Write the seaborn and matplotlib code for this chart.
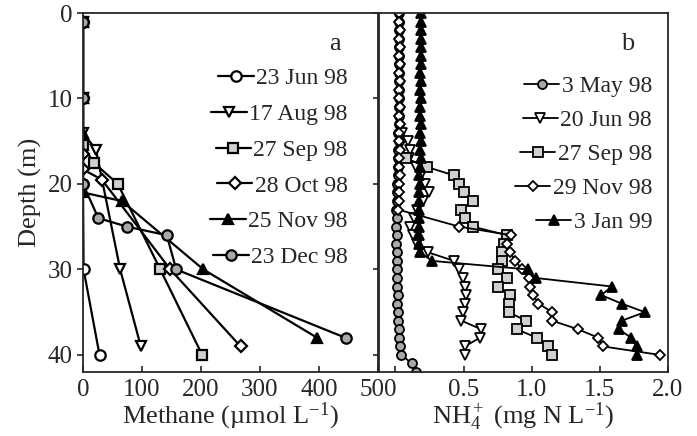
import numpy as np
import pandas as pd
import matplotlib
matplotlib.use("Agg")
import matplotlib.pyplot as plt
import seaborn as sns

# ---------------- Panel a: methane (umol/L) vs depth (m) ----------------
jun23_depth = [1, 10, 20, 30, 40]
jun23_ch4 = [0, 0, 0, 1, 28]
aug17_depth = [1, 10, 14, 16, 30, 39]
aug17_ch4 = [0, 0, 0, 22, 63, 98]
sep27_depth = [1, 10, 15.5, 17.5, 20, 30, 40]
sep27_ch4 = [0, 0, 0, 18, 59, 131, 202]
oct28_depth = [1, 10, 16.5, 18.3, 19.5, 30, 39]
oct28_ch4 = [0, 0, 0, 0, 32, 148, 267]
nov25_depth = [1, 10, 14, 21, 22, 30, 38]
nov25_ch4 = [0, 0, 0, 0, 66, 204, 397]
dec23_depth = [1, 10, 20, 24, 25, 26, 30, 38]
dec23_ch4 = [0, 0, 0, 26, 75, 142, 158, 445]

# ---------------- Panel b: NH4+ (mg N/L) vs depth (m) ----------------
may3_depth = list(range(0, 43))
may3_nh4 = [0.03, 0.025, 0.03, 0.025, 0.03, 0.025, 0.03, 0.025, 0.03, 0.025,
            0.03, 0.025, 0.03, 0.025, 0.02, 0.025, 0.02, 0.02, 0.02, 0.02,
            0.015, 0.01, 0.01, 0.005, 0.01, 0.005, 0.01, 0.005, 0.01, 0.01,
            0.015, 0.01, 0.015, 0.02, 0.015, 0.02, 0.02, 0.025, 0.03, 0.035,
            0.045, 0.12, 0.15]
jun20_depth = list(range(14, 41))
jun20_nh4 = [0.05, 0.093, 0.105, 0.10, 0.15, 0.19, 0.215, 0.25, 0.20, 0.16,
             0.14, 0.105, 0.13, 0.16, 0.24, 0.43, 0.47, 0.495, 0.51, 0.52,
             0.51, 0.495, 0.485, 0.63, 0.62, 0.51, 0.51]
sep27b_depth = list(range(17, 41))
sep27b_nh4 = [0.08, 0.23, 0.43, 0.47, 0.50, 0.57, 0.485, 0.51, 0.57, 0.82,
              0.80, 0.78, 0.78, 0.75, 0.82, 0.75, 0.84, 0.83, 0.83, 0.96,
              0.89, 1.04, 1.12, 1.15]
nov29_depth = list(range(0, 24)) + list(range(25, 41))
nov29_nh4 = [0.03, 0.03, 0.035, 0.03, 0.035, 0.03, 0.035, 0.03, 0.035, 0.03,
             0.03, 0.035, 0.03, 0.035, 0.03, 0.03, 0.035, 0.03, 0.03, 0.035,
             0.03, 0.03, 0.025, 0.02,
             0.47, 0.85, 0.82, 0.84, 0.88, 0.93, 0.98, 0.99, 1.01, 1.05,
             1.15, 1.15, 1.34, 1.49, 1.52, 1.94]
jan3_depth = list(range(0, 41))
jan3_nh4 = [0.19, 0.19, 0.185, 0.19, 0.185, 0.19, 0.185, 0.18, 0.185, 0.18,
            0.185, 0.18, 0.18, 0.185, 0.18, 0.185, 0.18, 0.19, 0.18, 0.17,
            0.18, 0.17, 0.175, 0.17, 0.175, 0.17, 0.17, 0.175, 0.18,
            0.27, 0.97, 1.03, 1.59, 1.51, 1.66, 1.83, 1.66, 1.64, 1.73,
            1.77, 1.77]

labels_a = ["23 Jun 98", "17 Aug 98", "27 Sep 98", "28 Oct 98", "25 Nov 98", "23 Dec 98"]
labels_b = ["3 May 98", "20 Jun 98", "27 Sep 98", "29 Nov 98", "3 Jan 99"]
xticks_a = [0, 100, 200, 300, 400, 500]
xticks_b = [0.0, 0.5, 1.0, 1.5, 2.0]
yticks = [0, 10, 20, 30, 40]

sns.set_style("ticks")
plt.rcParams["font.family"] = ["Liberation Serif", "DejaVu Serif"]
plt.rcParams["mathtext.fontset"] = "custom"
plt.rcParams["mathtext.rm"] = "Liberation Serif"
plt.rcParams["mathtext.it"] = "Liberation Serif:italic"
plt.rcParams["axes.linewidth"] = 1.3

FS = 17
FT = 18
fig = plt.figure(figsize=(6.97, 4.36), dpi=100)
W, H = 697, 436
ax_a = fig.add_axes([83 / W, 1 - 372 / H, (378 - 83) / W, (372 - 13) / H])
ax_b = fig.add_axes([379 / W, 1 - 372 / H, (668 - 379) / W, (372 - 13) / H])

GRAY = "#a8a8a8"
LIGHT = "#d0d0d0"
styles_a = [("o", "white"), ("v", "white"), ("s", LIGHT), ("D", "white"), ("^", "black"), ("o", GRAY)]
series_a = [(jun23_ch4, jun23_depth), (aug17_ch4, aug17_depth), (sep27_ch4, sep27_depth),
            (oct28_ch4, oct28_depth), (nov25_ch4, nov25_depth), (dec23_ch4, dec23_depth)]
for (xv, yv), (m, fc), lab in zip(series_a, styles_a, labels_a):
    df = pd.DataFrame({"x": xv, "y": yv})
    sns.lineplot(data=df, x="x", y="y", ax=ax_a, sort=False, estimator=None,
                 color="black", lw=1.6, marker=m, markersize=7.5 if m != "D" else 6.5,
                 markerfacecolor=fc, markeredgecolor="black", markeredgewidth=1.6,
                 label=lab)

styles_b = [("o", GRAY), ("v", "white"), ("s", LIGHT), ("D", "white"), ("^", "black")]
series_b = [(may3_nh4, may3_depth), (jun20_nh4, jun20_depth), (sep27b_nh4, sep27b_depth),
            (nov29_nh4, nov29_depth), (jan3_nh4, jan3_depth)]
for (xv, yv), (m, fc), lab in zip(series_b, styles_b, labels_b):
    df = pd.DataFrame({"x": xv, "y": yv})
    sns.lineplot(data=df, x="x", y="y", ax=ax_b, sort=False, estimator=None,
                 color="black", lw=1.3, marker=m, markersize=6.5 if m != "D" else 5.5,
                 markerfacecolor=fc, markeredgecolor="black", markeredgewidth=1.3,
                 label=lab)

for ax in (ax_a, ax_b):
    ax.set_ylim(42, 0)
    ax.set_yticks(yticks)
    ax.tick_params(axis="both", labelsize=FT, width=1.2, length=4)
    ax.tick_params(axis="x", direction="in", pad=5)
    ax.tick_params(axis="y", direction="out")
    for s in ax.spines.values():
        s.set_visible(True)
        s.set_linewidth(1.3)

ax_a.set_xlim(0, 500)
ax_a.set_xticks(xticks_a)
ax_a.set_xticklabels([str(t) for t in xticks_a])
ax_a.set_ylabel("Depth (m)", fontsize=FT + 1, labelpad=4)
ax_a.set_xlabel("Methane (µmol L$^{-1}$)", fontsize=FT + 1, labelpad=0)

ax_b.set_xlim(-0.12, 2.0)
ax_b.set_xticks(xticks_b)
ax_b.set_xticklabels([""] + ["%.1f" % t for t in xticks_b[1:]])
ax_b.set_yticklabels([])
ax_b.set_ylabel("")
ax_b.set_xlabel("NH$_4^+$ (mg N L$^{-1}$)", fontsize=FT + 1, labelpad=0)

ax_a.text(0.855, 0.915, "a", transform=ax_a.transAxes, fontsize=FT + 1, ha="center", va="center")
ax_b.text(0.862, 0.915, "b", transform=ax_b.transAxes, fontsize=FT + 1, ha="center", va="center")


def make_legend(ax, anchor, spacing):
    leg = ax.legend(loc="upper right", bbox_to_anchor=anchor, frameon=False, fontsize=FS,
                    handlelength=1.5, handletextpad=0.1, labelspacing=spacing,
                    borderaxespad=0, borderpad=0)
    try:
        for col in leg._legend_handle_box.get_children():
            col.align = "right"
    except Exception:
        pass
    return leg


make_legend(ax_a, (0.897, 0.847), 0.6)
make_legend(ax_b, (0.945, 0.826), 0.53)

fig.savefig("out.png", dpi=100)
